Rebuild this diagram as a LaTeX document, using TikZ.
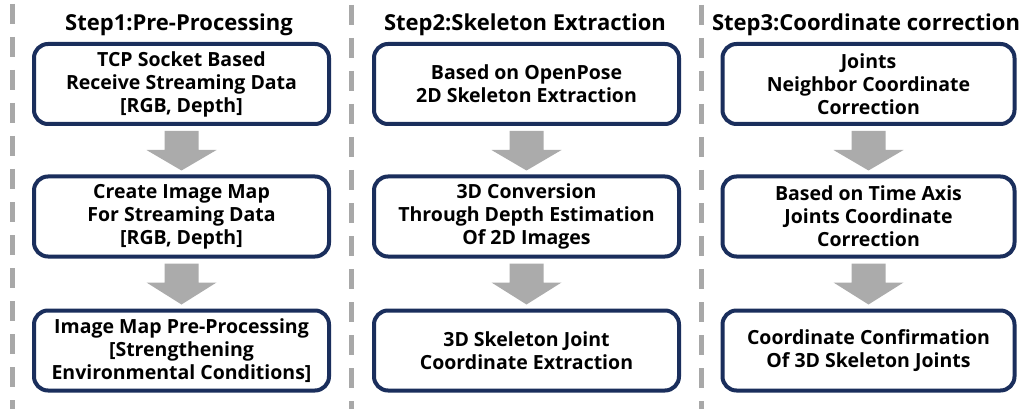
\documentclass[tikz,border=0pt]{standalone}
\usepackage{fontspec}
\setmainfont{Open Sans}
\usetikzlibrary{calc}
\definecolor{navy}{HTML}{1A2E5C}
\definecolor{arrgray}{HTML}{ABABAB}
\definecolor{dashgray}{HTML}{A8A8A8}
\tikzset{
  stepbox/.style={draw=navy, line width=4pt, rounded corners=14pt, fill=white,
    minimum width=295pt, minimum height=80pt, align=center, inner sep=0pt,
    font=\fontsize{19.5}{23}\selectfont\bfseries},
  steptitle/.style={font=\fontsize{22}{26}\selectfont\bfseries, inner sep=0pt},
  sepline/.style={draw=dashgray, line width=5pt, dash pattern=on 20pt off 13pt},
  flowarrow/.style={fill=arrgray}
}
\newcommand{\blockarrow}[2]{%
  \fill[flowarrow] ($(#1.south)+(-17,5)$) -- ($(#1.south)+(17,5)$) -- ($(#1.south)+(17,24)$)
    -- ($(#1.south)+(35,24)$) -- ($(#2.north)+(0,-4)$) -- ($(#1.south)+(-35,24)$)
    -- ($(#1.south)+(-17,24)$) -- cycle;}
\begin{document}
\begin{tikzpicture}[x=1pt,y=-1pt]
\useasboundingbox (0,0) rectangle (1031,409);
\fill[white] (0,0) rectangle (1031,409);
% separators
\coordinate (s1t) at (12.5,4); \coordinate (s1b) at (12.5,409);
\coordinate (s2t) at (351,5); \coordinate (s2b) at (351,409);
\coordinate (s3t) at (701,5); \coordinate (s3b) at (701,409);
\draw[sepline] (s1t) -- (s1b);
\draw[sepline] (s2t) -- (s2b);
\draw[sepline] (s3t) -- (s3b);
% titles
\node[steptitle] (t1) at (179,25) {Step1:Pre-Processing};
\node[steptitle] (t2) at (525,25) {Step2:Skeleton Extraction};
\node[steptitle] (t3) at (866,25) {Step3:Coordinate correction};
% column 1
\node[stepbox, minimum width=295pt] (a1) at (181.5,84) {TCP Socket Based\\Receive Streaming Data\\{[RGB, Depth]}};
\node[stepbox, minimum width=295pt] (a2) at (181.5,216.5) {Create Image Map\\For Streaming Data\\{[RGB, Depth]}};
\node[stepbox, minimum width=295pt] (a3) at (181.5,350.5) {Image Map Pre-Processing\\{[Strengthening}\\Environmental Conditions]};
% column 2
\node[stepbox, minimum width=305pt] (b1) at (526.5,84) {Based on OpenPose\\2D Skeleton Extraction};
\node[stepbox, minimum width=305pt] (b2) at (526.5,216.5) {3D Conversion\\Through Depth Estimation\\Of 2D Images};
\node[stepbox, minimum width=305pt] (b3) at (526.5,350.5) {3D Skeleton Joint\\Coordinate Extraction};
% column 3
\node[stepbox, minimum width=292pt] (c1) at (868.5,84) {Joints\\Neighbor Coordinate\\Correction};
\node[stepbox, minimum width=292pt] (c2) at (868.5,216.5) {Based on Time Axis\\Joints Coordinate\\Correction};
\node[stepbox, minimum width=292pt] (c3) at (868.5,350.5) {Coordinate Confirmation\\Of 3D Skeleton Joints};
% arrows
\blockarrow{a1}{a2}
\blockarrow{a2}{a3}
\blockarrow{b1}{b2}
\blockarrow{b2}{b3}
\blockarrow{c1}{c2}
\blockarrow{c2}{c3}
\end{tikzpicture}
\end{document}
